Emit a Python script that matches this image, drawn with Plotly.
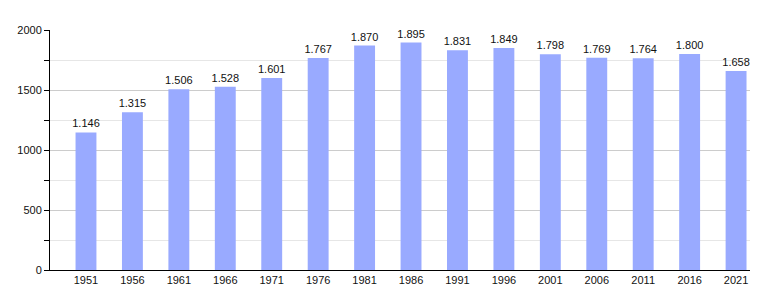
import plotly.graph_objects as go

years = ["1951", "1956", "1961", "1966", "1971", "1976", "1981", "1986",
         "1991", "1996", "2001", "2006", "2011", "2016", "2021"]
population = [1146, 1315, 1506, 1528, 1601, 1767, 1870, 1895,
              1831, 1849, 1798, 1769, 1764, 1800, 1658]

fig = go.Figure(go.Bar(
    x=years, y=population,
    marker=dict(color="#99aaff", line=dict(width=0)),
    width=0.45,
    texttemplate="%{y:,}", textposition="outside",
    constraintext="none", textangle=0,
    textfont=dict(family="Liberation Sans, Arial, sans-serif", size=11, color="#111111"),
    cliponaxis=False,
))

fig.update_layout(
    width=780, height=300,
    margin=dict(l=50, r=30, t=30, b=30),
    paper_bgcolor="white", plot_bgcolor="white",
    separators=",.",
    showlegend=False,
    font=dict(family="Liberation Sans, Arial, sans-serif", size=11, color="#111111"),
)
fig.update_xaxes(
    type="category", range=[-0.775, 14.3],
    showline=True, linecolor="black", linewidth=1, mirror=False,
    ticks="", showgrid=False, zeroline=False, tickfont=dict(size=11),
)
fig.update_yaxes(
    range=[0, 2000], tickvals=[0, 500, 1000, 1500, 2000],
    ticktext=["0", "500", "1000", "1500", "2000"],
    showline=True, linecolor="black", linewidth=1, mirror=False,
    ticks="outside", ticklen=5, tickcolor="black",
    showgrid=True, gridcolor="#cccccc", gridwidth=1,
    zeroline=False,
    minor=dict(dtick=250, tick0=0, ticks="outside", ticklen=5, tickcolor="black",
               showgrid=True, gridcolor="#e6e6e6", gridwidth=1),
    tickfont=dict(size=11),
)

fig.write_html("out.html", config={"displayModeBar": False})
